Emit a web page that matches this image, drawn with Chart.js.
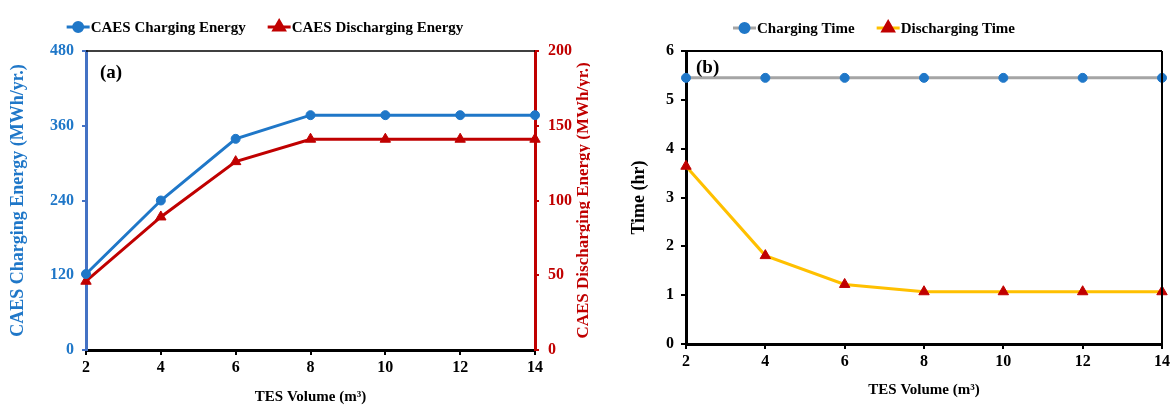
<!DOCTYPE html>
<html>
<head>
<meta charset="utf-8">
<script src="https://cdn.jsdelivr.net/npm/chart.js@4.4.1/dist/chart.umd.min.js"></script>
<style>
    html, body { margin: 0; padding: 0; background: #fff; }
    #wrap { position: relative; width: 1173px; height: 412px; }
    #chartA { position: absolute; left: 0; top: 0; }
    #chartB { position: absolute; left: 590px; top: 0; }
</style>
</head>
<body>
<div id="wrap">
    <canvas id="chartA" width="590" height="412"></canvas>
    <canvas id="chartB" width="583" height="412"></canvas>
</div>
<script>
// data
const tesVolume = ['2', '4', '6', '8', '10', '12', '14'];
const chargingEnergy = [122, 240, 339, 377, 377, 377, 377];      // MWh/yr, left axis
const dischargingEnergy = [46, 89, 126, 141, 141, 141, 141];     // MWh/yr, right axis
const chargingTime = [5.45, 5.45, 5.45, 5.45, 5.45, 5.45, 5.45]; // hr
const dischargingTime = [3.64, 1.81, 1.22, 1.07, 1.07, 1.07, 1.07];
const energyTicksLeft = [0, 120, 240, 360, 480];
const energyTicksRight = [0, 50, 100, 150, 200];
const timeTicks = [0, 1, 2, 3, 4, 5, 6];

const SERIF = '"Liberation Serif", "Times New Roman", serif';
Chart.defaults.font.family = SERIF;
Chart.defaults.font.weight = 'bold';

const BLUE = '#1f77c8';
const AXIS_BLUE = '#4472c4';
const RED = '#c00000';
const GRAY = '#a5a5a5';
const GOLD = '#ffc000';

// legend drawn as line + marker, like the spreadsheet one
const lineLegend = {
    id: 'lineLegend',
    afterDraw(chart, args, opts) {
        const ctx = chart.ctx;
        ctx.save();
        ctx.font = 'bold 15px ' + SERIF;
        ctx.textBaseline = 'middle';
        const lineLen = 23, sep = 22;
        const items = chart.data.datasets.map(ds => ({
            text: ds.label,
            w: ctx.measureText(ds.label).width,
            ds: ds
        }));
        let total = items.reduce((s, it) => s + lineLen + 1 + it.w, 0) + sep * (items.length - 1);
        let x = opts.cx - total / 2;
        items.forEach(it => {
            ctx.strokeStyle = it.ds.borderColor;
            ctx.lineWidth = 3;
            ctx.beginPath();
            ctx.moveTo(x, opts.y);
            ctx.lineTo(x + lineLen, opts.y);
            ctx.stroke();
            ctx.fillStyle = it.ds.pointBackgroundColor;
            ctx.strokeStyle = it.ds.pointBorderColor;
            Chart.helpers.drawPoint(ctx, {
                pointStyle: it.ds.pointStyle,
                radius: it.ds.pointRadius,
                borderWidth: 1,
                rotation: 0
            }, x + lineLen / 2, opts.y);
            ctx.fillStyle = '#000';
            ctx.fillText(it.text, x + lineLen + 1, opts.y + 1);
            x += lineLen + 1 + it.w + sep;
        });
        ctx.restore();
    }
};

// panel label, extra frame lines and a right-hand title that reads bottom to top
const panelDecor = {
    id: 'panelDecor',
    afterDatasetsDraw(chart, args, opts) {
        const ctx = chart.ctx;
        const a = chart.chartArea;
        ctx.save();
        ctx.strokeStyle = '#000';
        if (opts.top) {
            ctx.lineWidth = opts.top;
            ctx.beginPath();
            ctx.moveTo(a.left, a.top);
            ctx.lineTo(a.right, a.top);
            ctx.stroke();
        }
        if (opts.right) {
            ctx.lineWidth = opts.right;
            ctx.beginPath();
            ctx.moveTo(a.right, a.top);
            ctx.lineTo(a.right, a.bottom);
            ctx.stroke();
        }
        ctx.font = 'bold 19px ' + SERIF;
        ctx.fillStyle = '#000';
        ctx.textBaseline = 'middle';
        ctx.fillText(opts.label, a.left + opts.dx, a.top + opts.dy);

        if (opts.sideTitle) {
            const t = opts.sideTitle;
            ctx.translate(t.x, (a.top + a.bottom) / 2);
            ctx.rotate(-Math.PI / 2);
            ctx.font = 'bold ' + t.size + 'px ' + SERIF;
            ctx.fillStyle = t.color;
            ctx.textAlign = 'center';
            ctx.fillText(t.text, 0, 0);
        }
        ctx.restore();
    }
};

function tickFont(size) {
    return { family: SERIF, size: size, weight: 'bold' };
}

new Chart(document.getElementById('chartA'), {
    type: 'line',
    data: {
        labels: tesVolume,
        datasets: [{
            label: 'CAES Charging Energy',
            data: chargingEnergy,
            yAxisID: 'y',
            borderColor: BLUE,
            borderWidth: 3,
            pointStyle: 'circle',
            pointRadius: 4.5,
            pointBorderWidth: 1,
            pointBackgroundColor: BLUE,
            pointBorderColor: BLUE,
            tension: 0,
            clip: false
        }, {
            label: 'CAES Discharging Energy',
            data: dischargingEnergy,
            yAxisID: 'y1',
            borderColor: RED,
            borderWidth: 3,
            pointStyle: 'triangle',
            pointRadius: 6,
            pointBorderWidth: 1,
            pointBackgroundColor: RED,
            pointBorderColor: RED,
            tension: 0,
            clip: false
        }]
    },
    options: {
        responsive: false,
        animation: false,
        events: [],
        layout: { padding: { top: 51, left: 0, right: 0, bottom: 0 } },
        plugins: {
            legend: { display: false },
            tooltip: { enabled: false },
            lineLegend: { cx: 265, y: 27 },
            panelDecor: {
                top: 1.5, right: 0, label: '(a)', dx: 14, dy: 22,
                sideTitle: { text: 'CAES Discharging Energy (MWh/yr.)', color: RED, size: 17, x: 584 }
            }
        },
        scales: {
            x: {
                type: 'category',
                offset: false,
                grid: { drawOnChartArea: false, color: '#000', lineWidth: 2, tickLength: 5 },
                border: { color: '#000', width: 3 },
                ticks: { color: '#000', font: tickFont(16), padding: 3, maxRotation: 0 },
                title: { display: true, text: 'TES Volume (m³)', color: '#000', font: tickFont(15), padding: { top: 0, bottom: 6 } },
                afterFit: s => { s.height = 62; }
            },
            y: {
                position: 'left',
                min: 0,
                max: 480,
                afterBuildTicks: s => { s.ticks = energyTicksLeft.map(v => ({ value: v })); },
                grid: { drawOnChartArea: false, color: AXIS_BLUE, lineWidth: 2, tickLength: 4 },
                border: { color: AXIS_BLUE, width: 3 },
                ticks: { color: BLUE, font: tickFont(16), padding: 8 },
                title: { display: true, text: 'CAES Charging Energy (MWh/yr.)', color: BLUE, font: tickFont(18), padding: { top: 8, bottom: 0 } },
                afterFit: s => { s.width = 86; }
            },
            y1: {
                position: 'right',
                min: 0,
                max: 200,
                afterBuildTicks: s => { s.ticks = energyTicksRight.map(v => ({ value: v })); },
                grid: { drawOnChartArea: false, color: RED, lineWidth: 2, tickLength: 4 },
                border: { color: RED, width: 3 },
                ticks: { color: RED, font: tickFont(16), padding: 9 },
                title: { display: false },
                afterFit: s => { s.width = 55; }
            }
        }
    },
    plugins: [lineLegend, panelDecor]
});

new Chart(document.getElementById('chartB'), {
    type: 'line',
    data: {
        labels: tesVolume,
        datasets: [{
            label: 'Charging Time',
            data: chargingTime,
            borderColor: GRAY,
            borderWidth: 3,
            pointStyle: 'circle',
            pointRadius: 4.5,
            pointBorderWidth: 1,
            pointBackgroundColor: BLUE,
            pointBorderColor: BLUE,
            tension: 0,
            clip: false
        }, {
            label: 'Discharging Time',
            data: dischargingTime,
            borderColor: GOLD,
            borderWidth: 3,
            pointStyle: 'triangle',
            pointRadius: 6,
            pointBorderWidth: 1,
            pointBackgroundColor: RED,
            pointBorderColor: RED,
            tension: 0,
            clip: false
        }]
    },
    options: {
        responsive: false,
        animation: false,
        events: [],
        layout: { padding: { top: 51, left: 0, right: 8, bottom: 0 } },
        plugins: {
            legend: { display: false },
            tooltip: { enabled: false },
            lineLegend: { cx: 284, y: 28 },
            panelDecor: { top: 2, right: 2, label: '(b)', dx: 10, dy: 17 }
        },
        scales: {
            x: {
                type: 'category',
                offset: false,
                grid: { drawOnChartArea: false, color: '#000', lineWidth: 2, tickLength: 5 },
                border: { color: '#000', width: 3 },
                ticks: { color: '#000', font: tickFont(16), padding: 3, maxRotation: 0 },
                title: { display: true, text: 'TES Volume (m³)', color: '#000', font: tickFont(15), padding: { top: 0, bottom: 13 } },
                afterFit: s => { s.height = 68; }
            },
            y: {
                position: 'left',
                min: 0,
                max: 6,
                afterBuildTicks: s => { s.ticks = timeTicks.map(v => ({ value: v })); },
                grid: { drawOnChartArea: false, color: '#000', lineWidth: 2, tickLength: 5 },
                border: { color: '#000', width: 3 },
                ticks: { color: '#000', font: tickFont(16), padding: 7 },
                title: { display: true, text: 'Time (hr)', color: '#000', font: tickFont(18), padding: { top: 39, bottom: 0 } },
                afterFit: s => { s.width = 96; }
            }
        }
    },
    plugins: [lineLegend, panelDecor]
});
</script>
</body>
</html>
